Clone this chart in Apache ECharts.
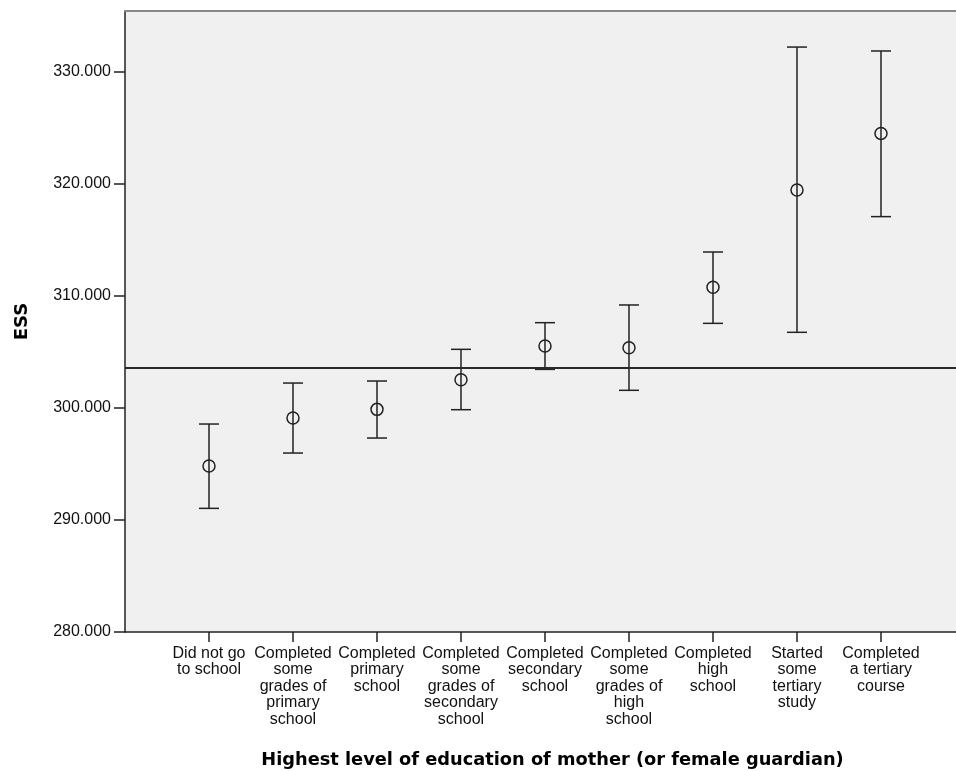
<!DOCTYPE html>
<html>
<head>
<meta charset="utf-8">
<script src="https://cdn.jsdelivr.net/npm/echarts@6/dist/echarts.min.js"></script>
<style>html,body{margin:0;padding:0;background:#fff}#c{width:956px;height:771px}</style>
</head>
<body>
<div id="c"></div>
<script>
const categories = [
  "Did not go\nto school",
  "Completed\nsome\ngrades of\nprimary\nschool",
  "Completed\nprimary\nschool",
  "Completed\nsome\ngrades of\nsecondary\nschool",
  "Completed\nsecondary\nschool",
  "Completed\nsome\ngrades of\nhigh\nschool",
  "Completed\nhigh\nschool",
  "Started\nsome\ntertiary\nstudy",
  "Completed\na tertiary\ncourse"
];
const means  = [294.82, 299.11, 299.88, 302.53, 305.54, 305.38, 310.78, 319.46, 324.52];
const lowers = [291.04, 295.98, 297.32, 299.85, 303.45, 301.58, 307.56, 306.76, 317.09];
const uppers = [298.57, 302.23, 302.41, 305.24, 307.62, 309.20, 313.93, 332.23, 331.88];
const refLine = 303.63;
const yTicks = [280, 290, 300, 310, 320, 330];
const yTitle = "ESS";
const xTitle = "Highest level of education of mother (or female guardian)";

const positions = categories.map((c, i) => i + 1);
const meanData = means.map((m, i) => [positions[i], m]);
const barData = means.map((m, i) => [positions[i], lowers[i], uppers[i]]);

const labelFont = "'Liberation Sans', Arial, sans-serif";
const chart = echarts.init(document.getElementById('c'), null, {renderer: 'canvas'});
chart.setOption({
  animation: false,
  backgroundColor: '#ffffff',
  grid: {left: 125, right: 0, top: 11, bottom: 139, outerBoundsMode: 'none', containLabel: false,
         show: true, backgroundColor: '#f0f0f0', borderWidth: 0},
  xAxis: [{
    type: 'value', min: 0, max: 9.893, interval: 1,
    name: xTitle, nameLocation: 'middle', nameGap: 119,
    nameTextStyle: {fontFamily: "'DejaVu Sans', sans-serif", fontWeight: 'bold', fontSize: 17.8, color: '#000', padding: [0, 0, 0, 24]},
    splitLine: {show: false},
    axisLine: {show: true, lineStyle: {color: '#222', width: 1.5}},
    axisTick: {show: true, length: 10, customValues: positions, lineStyle: {color: '#222', width: 1.5}},
    axisLabel: {
      customValues: positions, margin: 13,
      fontFamily: labelFont, fontSize: 16, lineHeight: 16.5, color: '#111', align: 'center',
      formatter: v => categories[Math.round(v) - 1] || ''
    }
  }, {
    type: 'value', min: 0, max: 9.893, position: 'top',
    splitLine: {show: false}, axisTick: {show: false}, axisLabel: {show: false},
    axisLine: {show: true, lineStyle: {color: '#888', width: 2}}
  }],
  yAxis: {
    type: 'value', min: 280, max: 335.45, interval: 10,
    name: yTitle, nameLocation: 'middle', nameGap: 94, nameRotate: 90,
    nameTextStyle: {fontFamily: "'DejaVu Sans', sans-serif", fontWeight: 'bold', fontSize: 18, color: '#000'},
    splitLine: {show: false},
    axisLine: {show: true, lineStyle: {color: '#222', width: 1.5}},
    axisTick: {show: true, length: 11, customValues: yTicks, lineStyle: {color: '#222', width: 1.5}},
    axisLabel: {
      customValues: yTicks, margin: 14,
      fontFamily: labelFont, fontSize: 16, color: '#111',
      formatter: v => v.toFixed(3)
    }
  },
  series: [{
    type: 'custom',
    data: barData,
    encode: {x: 0, y: [1, 2]},
    renderItem: function (params, api) {
      const x = api.value(0);
      const lo = api.coord([x, api.value(1)]);
      const hi = api.coord([x, api.value(2)]);
      const hw = 10;
      const style = {stroke: '#222', lineWidth: 1.5};
      return {type: 'group', children: [
        {type: 'line', shape: {x1: lo[0], y1: lo[1], x2: hi[0], y2: hi[1]}, style},
        {type: 'line', shape: {x1: lo[0] - hw, y1: lo[1], x2: lo[0] + hw, y2: lo[1]}, style},
        {type: 'line', shape: {x1: hi[0] - hw, y1: hi[1], x2: hi[0] + hw, y2: hi[1]}, style}
      ]};
    },
    z: 3
  }, {
    type: 'scatter',
    data: meanData,
    symbol: 'circle', symbolSize: 12,
    itemStyle: {color: 'rgba(0,0,0,0)', borderColor: '#222', borderWidth: 1.5, opacity: 1},
    z: 4,
    markLine: {
      silent: true, symbol: 'none', label: {show: false},
      lineStyle: {color: '#2a2a2a', width: 2.2, type: 'solid'},
      data: [{yAxis: refLine}]
    }
  }]
});
</script>
</body>
</html>
